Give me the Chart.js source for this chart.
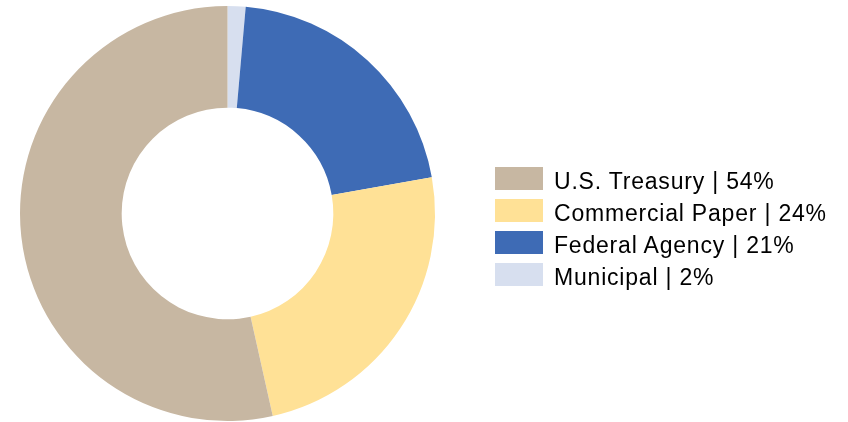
<!DOCTYPE html>
<html>
<head>
<meta charset="utf-8">
<script src="https://cdn.jsdelivr.net/npm/chart.js@4/dist/chart.umd.min.js"></script>
<style>
    html, body { margin: 0; padding: 0; background: #fff; }
    #wrap { position: relative; width: 848px; height: 422px; }
    #chart { position: absolute; left: 0; top: 0; }
    .legend-row { position: absolute; left: 495px; height: 23px; }
    .legend-box { position: absolute; left: 0; top: 0; width: 48px; height: 23px; }
    .legend-text {
        position: absolute; left: 59px; top: 3px; white-space: nowrap;
        font-family: "Liberation Sans", Arial, sans-serif; font-size: 23px;
        letter-spacing: 0.8px; line-height: 23px; color: #000;
    }
</style>
</head>
<body>
<div id="wrap">
    <canvas id="chart" width="848" height="422"></canvas>
    <div id="legend"></div>
</div>
<script>
// slices in clockwise order from 12 o'clock
const categories = ['Municipal', 'Federal Agency', 'Commercial Paper', 'U.S. Treasury'];
const shares = [1.4, 20.8, 24.3, 53.5];
const sliceColors = ['#D7DFEF', '#3E6BB5', '#FFE196', '#C7B7A2'];

// legend as printed in the picture
const legendLabels = ['U.S. Treasury | 54%', 'Commercial Paper | 24%', 'Federal Agency | 21%', 'Municipal | 2%'];
const legendColors = ['#C7B7A2', '#FFE196', '#3E6BB5', '#D7DFEF'];

const ctx = document.getElementById('chart');
new Chart(ctx.getContext('2d'), {
    type: 'doughnut',
    data: {
        labels: categories,
        datasets: [{
            data: shares,
            backgroundColor: sliceColors,
            borderWidth: 0
        }]
    },
    options: {
        responsive: false,
        animation: false,
        cutout: '51%',
        layout: { padding: { left: 20, right: 413, top: 6, bottom: 1 } },
        plugins: { legend: { display: false }, tooltip: { enabled: false } }
    }
});

const legend = document.getElementById('legend');
legendLabels.forEach((text, i) => {
    const row = document.createElement('div');
    row.className = 'legend-row';
    row.style.top = (167 + i * 32) + 'px';
    row.innerHTML = '<div class="legend-box" style="background:' + legendColors[i] + '"></div>' +
        '<div class="legend-text">' + text + '</div>';
    legend.appendChild(row);
});
</script>
</body>
</html>
